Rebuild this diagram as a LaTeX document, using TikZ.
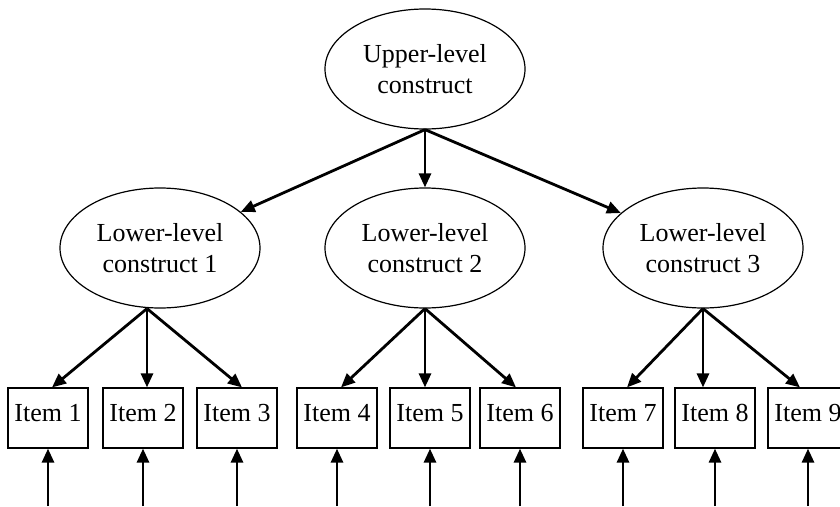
\documentclass[tikz,border=0pt]{standalone}
\usepackage{fontspec}
\setmainfont{Liberation Serif}
\usetikzlibrary{arrows.meta, shapes.geometric}

\begin{document}
\begin{tikzpicture}[x=1pt, y=-1pt,
        font=\fontsize{26}{31}\selectfont,
        construct/.style={draw, ellipse, line width=1.2pt, minimum width=200pt, minimum height=120pt, inner sep=0pt, align=center},
        item/.style={draw, line width=1.2pt, minimum width=80pt, minimum height=60pt, inner sep=0pt, text height=17.5pt, text depth=10pt},
        link/.style={line width=2.8pt, -{Triangle[length=14pt, width=12pt]}}]
        \clip (0,0) rectangle (840,506);
        \node[construct] (up) at (425,69) {Upper-level\\construct};
        \node[construct] (low1) at (160,248) {Lower-level\\construct 1};
        \node[construct] (low2) at (425,248) {Lower-level\\construct 2};
        \node[construct] (low3) at (703,248) {Lower-level\\construct 3};
        \foreach \n/\x in {1/48, 2/143, 3/237, 4/337, 5/430, 6/520, 7/623, 8/715, 9/808}{
            \node[item] (item\n) at (\x,418) {Item \n};
            \coordinate (err\n) at (\x,506);
            \draw[link] (err\n) -- (item\n);
        }
        \foreach \l in {1,2,3}{
            \draw[link] (up.south) -- (low\l);
        }
        % arrows from the lower-level constructs to their items
        \foreach \l/\s/\i/\d in {1/-13/1/4, 1/-13/2/4, 1/-13/3/5, 2/0/4/4, 2/0/5/-5, 2/0/6/-4, 3/0/7/4, 3/0/8/-12, 3/0/9/-8}{
            \draw[link] ([xshift=\s pt]low\l.south) -- ([xshift=\d pt]item\i.north);
        }
\end{tikzpicture}
\end{document}
